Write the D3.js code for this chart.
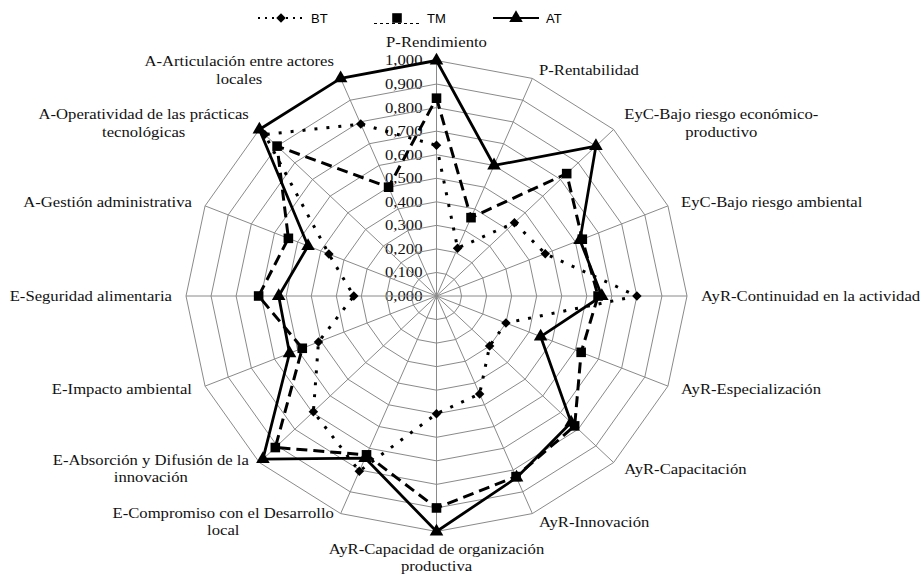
<!DOCTYPE html>
<html>
<head>
<meta charset="utf-8">
<script src="https://cdn.jsdelivr.net/npm/d3@7"></script>
<style>
  body { margin: 0; background: #fff; }
  svg { display: block; }
</style>
</head>
<body>
<svg id="svg" width="920" height="574"></svg>
<script>
const axisLabels = [
  ['P-Rendimiento'],
  ['P-Rentabilidad'],
  ['EyC-Bajo riesgo económico-', 'productivo'],
  ['EyC-Bajo riesgo ambiental'],
  ['AyR-Continuidad en la actividad'],
  ['AyR-Especialización'],
  ['AyR-Capacitación'],
  ['AyR-Innovación'],
  ['AyR-Capacidad de organización', 'productiva'],
  ['E-Compromiso con el Desarrollo', 'local'],
  ['E-Absorción y Difusión de la', 'innovación'],
  ['E-Impacto ambiental'],
  ['E-Seguridad alimentaria'],
  ['A-Gestión administrativa'],
  ['A-Operatividad de las prácticas', 'tecnológicas'],
  ['A-Articulación entre actores', 'locales']
]

const seriesNames = ['BT', 'TM', 'AT']
const btValues = [0.64, 0.22, 0.44, 0.47, 0.80, 0.30, 0.30, 0.45, 0.50, 0.805, 0.695, 0.51, 0.33, 0.465, 0.97, 0.79]
const tmValues = [0.84, 0.36, 0.735, 0.63, 0.645, 0.625, 0.78, 0.83, 0.90, 0.73, 0.91, 0.58, 0.71, 0.64, 0.90, 0.50]
const atValues = [1.0, 0.60, 0.90, 0.62, 0.66, 0.45, 0.76, 0.835, 1.0, 0.745, 0.98, 0.635, 0.63, 0.555, 1.0, 1.0]

const tickValues = [0, 0.1, 0.2, 0.3, 0.4, 0.5, 0.6, 0.7, 0.8, 0.9, 1.0]

const cx = 436.5
const cy = 296
const stretch = 1.19
const serif = '"Liberation Serif", "Times New Roman", serif'

const svg = d3.select('#svg')

const rX = d3.scaleLinear().domain([0, 1]).range([0, 250.5])
const rY = d3.scaleLinear().domain([0, 1]).range([0, 235.5])
const angle = d3.scaleLinear().domain([0, axisLabels.length]).range([0, 2 * Math.PI])

const pt = (i, v) => [cx + rX(v) * Math.sin(angle(i)), cy - rY(v) * Math.cos(angle(i))]

const fmt = d3.formatLocale({ decimal: ',', thousands: '.', grouping: [3], currency: ['', ''] }).format('.3f')

// tick labels (under the grid, like the original)
svg.append('g')
  .selectAll('text')
  .data(tickValues)
  .join('text')
  .attr('transform', d => `translate(${cx - 14}, ${cy - rY(d)}) scale(${stretch}, 1)`)
  .attr('dy', '0.35em')
  .attr('text-anchor', 'end')
  .style('font-family', serif)
  .style('font-size', '14px')
  .style('fill', '#111')
  .text(d => fmt(d))

// grid rings
const idx = d3.range(axisLabels.length)
const grid = svg.append('g')
grid.selectAll('polygon')
  .data(tickValues.slice(1))
  .join('polygon')
  .attr('points', t => idx.map(i => pt(i, t).join(',')).join(' '))
  .attr('fill', 'none')
  .attr('stroke', '#8a8a8a')
  .attr('stroke-width', 1)

grid.selectAll('line')
  .data(idx)
  .join('line')
  .attr('x1', cx)
  .attr('y1', cy)
  .attr('x2', i => pt(i, 1)[0])
  .attr('y2', i => pt(i, 1)[1])
  .attr('stroke', '#8a8a8a')
  .attr('stroke-width', 1)

// axis labels
const lineH = 17.2
axisLabels.forEach((lines, i) => {
  const a = angle(i)
  const s = Math.sin(a)
  const c = Math.cos(a)
  const [vx, vy] = pt(i, 1)
  const g = svg.append('g')
  const texts = g.selectAll('text')
    .data(lines)
    .join('text')
    .attr('text-anchor', 'middle')
    .attr('dy', '0.35em')
    .style('font-family', serif)
    .style('font-size', '14px')
    .style('fill', '#111')
    .text(d => d)
  const w = d3.max(texts.nodes(), n => n.getComputedTextLength()) * stretch
  const h = lines.length * lineH
  texts.attr('y', (d, k) => -h / 2 + lineH * (k + 0.5))

  let tx = vx
  const gap = 12 * Math.abs(s) + 2
  if (s > 0.01) tx = vx + gap + w / 2
  if (s < -0.01) tx = vx - gap - w / 2

  let ty
  if (c > 0.99) ty = vy - 9.5 - h / 2
  else if (c < -0.99) ty = vy + 8.5 + h / 2
  else ty = vy - c * 9

  g.attr('transform', `translate(${tx}, ${ty}) scale(${stretch}, 1)`)
})

// series
const series = [
  { name: seriesNames[0], values: btValues, dash: '3,9', width: 3, symbol: 'diamond' },
  { name: seriesNames[1], values: tmValues, dash: '11,6', width: 3, symbol: 'square' },
  { name: seriesNames[2], values: atValues, dash: null, width: 2.8, symbol: 'triangle' }
]

const radial = d3.line()
  .x(d => d[0])
  .y(d => d[1])
  .curve(d3.curveLinearClosed)

const symbolPath = {
  diamond: d3.symbol(d3.symbolSquare, 45)(),
  square: d3.symbol(d3.symbolSquare, 92)(),
  triangle: d3.symbol(d3.symbolTriangle, 80)()
}
const symbolRot = { diamond: 45, square: 0, triangle: 0 }

series.forEach(sr => {
  const pts = sr.values.map((v, i) => pt(i, v))
  svg.append('path')
    .attr('d', radial(pts))
    .attr('fill', 'none')
    .attr('stroke', '#000')
    .attr('stroke-width', sr.width)
    .attr('stroke-dasharray', sr.dash)
    .attr('stroke-linejoin', 'round')

  svg.append('g')
    .selectAll('path')
    .data(pts)
    .join('path')
    .attr('d', symbolPath[sr.symbol])
    .attr('transform', d => `translate(${d[0]}, ${d[1]}) rotate(${symbolRot[sr.symbol]})`)
    .attr('fill', '#000')
})

// legend
const legendY = 18
const legendX = [258, 374, 493]
const legend = svg.append('g')
series.forEach((sr, k) => {
  const x0 = legendX[k]
  const item = legend.append('g').attr('transform', `translate(${x0}, ${legendY})`)
  if (sr.symbol === 'diamond') {
    item.append('line')
      .attr('x1', 0).attr('x2', 44).attr('y1', 0).attr('y2', 0)
      .attr('stroke', '#000').attr('stroke-width', 2.2).attr('stroke-dasharray', '2,5')
  } else if (sr.symbol === 'square') {
    item.append('line')
      .attr('x1', 0).attr('x2', 46).attr('y1', 5.5).attr('y2', 5.5)
      .attr('stroke', '#000').attr('stroke-width', 1).attr('stroke-dasharray', '3,3')
  } else {
    item.append('line')
      .attr('x1', 0).attr('x2', 46).attr('y1', 0).attr('y2', 0)
      .attr('stroke', '#000').attr('stroke-width', 2)
  }
  item.append('path')
    .attr('d', symbolPath[sr.symbol])
    .attr('transform', `translate(23, 0) rotate(${symbolRot[sr.symbol]})`)
    .attr('fill', '#000')
  item.append('text')
    .attr('x', 53)
    .attr('dy', '0.35em')
    .style('font-family', '"Liberation Sans", Arial, sans-serif')
    .style('font-size', '13px')
    .style('fill', '#000')
    .text(sr.name)
})
</script>
</body>
</html>
